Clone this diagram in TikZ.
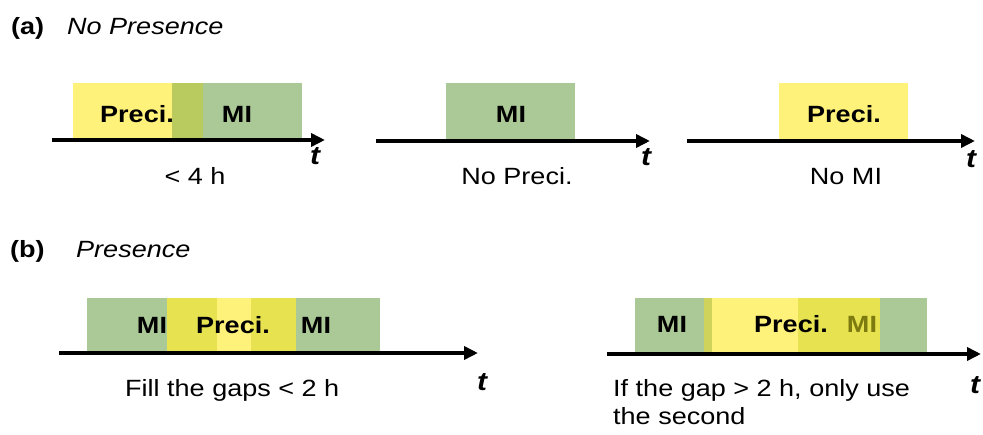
\documentclass[tikz,border=0pt]{standalone}
\usepackage{fontspec}
\setmainfont{Liberation Sans}[FakeStretch=1.15]
\usetikzlibrary{arrows.meta}
\definecolor{yel}{HTML}{FFF27A}
\definecolor{grn}{HTML}{ABC996}
\definecolor{ovl}{HTML}{B9CB5E}
\definecolor{dyel}{HTML}{E6E250}
\definecolor{strip}{HTML}{CFD35C}
\definecolor{olive}{HTML}{7D7A10}
\newcommand{\fsz}{\fontsize{23.5}{28}\selectfont}
\tikzset{
  axis/.style={line width=4.5pt,-{Triangle[length=14pt,width=13pt]}},
  txt/.style={inner sep=0pt,anchor=base,font=\fsz},
  lbl/.style={txt,font=\fsz\bfseries},
  ttl/.style={inner sep=0pt,anchor=base west,font=\fsz},
  tvar/.style={inner sep=0pt,anchor=base,font=\fontsize{26}{30}\selectfont\bfseries\itshape},
}
\begin{document}
\begin{tikzpicture}[x=1pt,y=-1pt]
\useasboundingbox (0,0) rectangle (983,435);
% titles
\node[ttl,font=\fsz\bfseries] (ta) at (11,35) {(a)};
\node[ttl,font=\fsz\itshape] (tna) at (67,35) {No Presence};
\node[ttl,font=\fsz\bfseries] (tb) at (10,258) {(b)};
\node[ttl,font=\fsz\itshape] (tnb) at (76,258) {Presence};
% (a) left
\fill[yel] (73,83) rectangle (172,140);
\fill[ovl] (172,83) rectangle (203,140);
\fill[grn] (203,83) rectangle (302,140);
\node[lbl] (p1) at (137,123) {Preci.};
\node[lbl] (m1) at (237,123) {MI};
\coordinate (a1s) at (52,140);
\coordinate (a1e) at (325,140);
\draw[axis] (a1s) -- (a1e);
\node[tvar] (t1) at (315,165) {t};
\node[txt] (c1) at (195,185) {< 4 h};
% (a) middle
\fill[grn] (446,83) rectangle (575,140);
\node[lbl] (m2) at (511,123) {MI};
\coordinate (a2s) at (376,141);
\coordinate (a2e) at (650,141);
\draw[axis] (a2s) -- (a2e);
\node[tvar] (t2) at (646,166) {t};
\node[txt] (c2) at (517,185) {No Preci.};
% (a) right
\fill[yel] (779,83) rectangle (908,140);
\node[lbl] (p3) at (844,123) {Preci.};
\coordinate (a3s) at (687,141);
\coordinate (a3e) at (975,141);
\draw[axis] (a3s) -- (a3e);
\node[tvar] (t3) at (971,168) {t};
\node[txt] (c3) at (846,185) {No MI};
% (b) left
\fill[grn] (87,298) rectangle (167,353);
\fill[dyel] (167,298) rectangle (217,353);
\fill[yel] (217,298) rectangle (251,353);
\fill[dyel] (251,298) rectangle (296,353);
\fill[grn] (296,298) rectangle (380,353);
\node[lbl] (m4) at (152,334) {MI};
\node[lbl] (p4) at (233,334) {Preci.};
\node[lbl] (m5) at (316,334) {MI};
\coordinate (b1s) at (59,353);
\coordinate (b1e) at (478,353);
\draw[axis] (b1s) -- (b1e);
\node[tvar] (t4) at (482,391) {t};
\node[ttl] (c4) at (125,397) {Fill the gaps < 2 h};
% (b) right
\fill[grn] (635,298) rectangle (704,354);
\fill[strip] (704,298) rectangle (712,354);
\fill[yel] (712,298) rectangle (798,354);
\fill[dyel] (798,298) rectangle (880,354);
\fill[grn] (880,298) rectangle (927,354);
\node[lbl] (m6) at (672,333) {MI};
\node[lbl] (p6) at (791,333) {Preci.};
\node[lbl,text=olive] (m7) at (862,333) {MI};
\coordinate (b2s) at (607,354);
\coordinate (b2e) at (981,354);
\draw[axis] (b2s) -- (b2e);
\node[tvar] (t5) at (975,394) {t};
\node[ttl] (c5) at (613,397) {If the gap > 2 h, only use};
\node[ttl] (c6) at (613,425) {the second};
\end{tikzpicture}
\end{document}
